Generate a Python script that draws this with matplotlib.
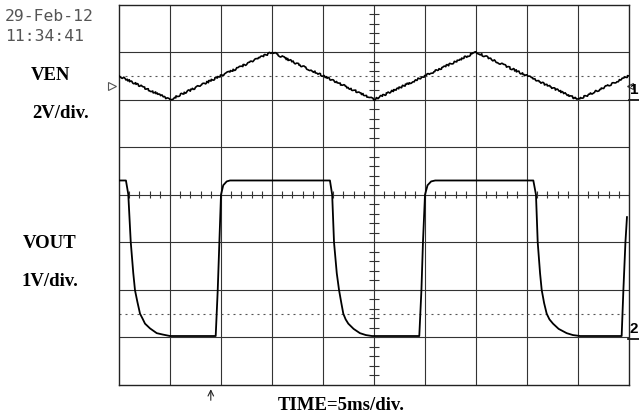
import numpy as np
import matplotlib
matplotlib.use("Agg")
import matplotlib.pyplot as plt

# scope settings
time_per_div = 5.0      # ms/div
ch1_scale = 2.0         # V/div
ch2_scale = 1.0         # V/div
ch1_pos = 2.0           # div, ground position of channel 1
ch2_pos = -3.0          # div, ground position of channel 2
trig_level = 0.56       # V on ch1
trig_time = 9.0         # ms

# VEN trace (ms, V)
ven_t = [0.0, 5.0, 15.0, 25.0, 35.0, 45.0, 50.0]
ven_v = [1.0, 0.0, 2.0, 0.0, 2.0, 0.0, 1.0]

# VOUT trace (ms, V)
vout_t = [0.0, 0.68, 0.91, 1.15, 1.40, 1.57, 1.81, 2.06, 2.30, 2.55, 3.04, 3.7, 4.31, 5.0,
          9.48, 9.68, 9.84, 10.0, 10.22, 10.56, 10.88,
          20.68, 20.9, 21.08, 21.35, 21.57, 21.80, 21.99, 22.22, 22.48, 23.0, 23.62, 24.2, 24.8,
          29.44, 29.65, 29.8, 30.0, 30.25, 30.6, 31.0,
          40.62, 40.88, 41.05, 41.28, 41.44, 41.68, 41.93, 42.2, 42.55, 43.1, 43.89, 44.5, 45.2,
          49.28, 49.45, 49.65, 49.8]
vout_v = [3.3, 3.3, 3.01, 2.01, 1.35, 0.99, 0.74, 0.5, 0.4, 0.29, 0.19, 0.09, 0.06, 0.03,
          0.03, 1.0, 2.0, 3.0, 3.2, 3.28, 3.3,
          3.3, 3.0, 2.0, 1.35, 1.0, 0.72, 0.5, 0.38, 0.29, 0.18, 0.09, 0.05, 0.03,
          0.03, 1.0, 2.0, 3.0, 3.2, 3.28, 3.3,
          3.3, 3.0, 2.0, 1.35, 1.0, 0.72, 0.5, 0.38, 0.29, 0.18, 0.09, 0.05, 0.03,
          0.03, 1.0, 2.0, 2.53]

W, H = 639, 416
fig = plt.figure(figsize=(W / 100, H / 100), dpi=100)
ax = fig.add_axes([119 / W, (H - 385) / H, 510 / W, 380.5 / H])
ax.set_xlim(0, 10)
ax.set_ylim(-4, 4)
ax.set_xticks([])
ax.set_yticks([])
for s in ax.spines.values():
    s.set_color("#222222")
    s.set_linewidth(1.0)

# graticule
gcol = "#333333"
for i in range(1, 10):
    ax.axvline(i, color=gcol, lw=0.8, zorder=1)
for j in range(-3, 4):
    ax.axhline(j, color=gcol, lw=0.8, zorder=1)
minor = np.arange(0, 10.01, 0.2)
ax.vlines(minor, -0.075, 0.075, color=gcol, lw=0.8, zorder=1)
minor_y = np.arange(-4, 4.01, 0.2)
ax.hlines(minor_y, 5 - 0.09, 5 + 0.09, color=gcol, lw=0.8, zorder=1)

# reference dotted lines
for yy in (2.5, -2.5):
    ax.axhline(yy, color="#555555", lw=0.8, ls=(0, (1.8, 3.6)), zorder=1)

# traces
xs1 = np.array(ven_t) / time_per_div
ys1 = ch1_pos + np.array(ven_v) / ch1_scale
l1, = ax.plot(xs1, ys1, color="black", lw=1.2, zorder=3)
l1.set_sketch_params(scale=0.9, length=3, randomness=6)

xs2 = np.array(vout_t) / time_per_div
ys2 = ch2_pos + np.array(vout_v) / ch2_scale
ax.plot(xs2, ys2, color="black", lw=1.3, zorder=3)

# markers
ty = ch1_pos + trig_level / ch1_scale
ax.plot([-0.13], [ty], marker=">", ms=6, mfc="none", mec="#555555", mew=0.8,
        clip_on=False)
ax.plot([10.015], [ty], marker="<", ms=4.5, mfc="none", mec="#333333", mew=0.8,
        clip_on=False)
ax.plot([10, 10.25], [ch1_pos, ch1_pos], color="black", lw=1.2, clip_on=False)
ax.plot([9.98, 10.25], [ch2_pos - 0.04, ch2_pos - 0.04], color="black",
        lw=1.2, clip_on=False)

# channel numbers, right aligned to the figure edge
lab = dict(family="Liberation Sans", fontweight="bold", fontsize=11,
           ha="right", va="bottom")
x_edge = 638.5 / W
y1 = ax.transData.transform((0, ch1_pos + 0.05))[1] / H
y2 = ax.transData.transform((0, ch2_pos + 0.02))[1] / H
fig.text(x_edge, y1, "1", **lab)
fig.text(x_edge, y2, "2", **lab)

# trigger arrow
ax.annotate("", xy=(trig_time / time_per_div, -4.03),
            xytext=(trig_time / time_per_div, -4.38),
            arrowprops=dict(arrowstyle="->", color="#222222", lw=0.8),
            annotation_clip=False)


def fpos(x, y):
    return x / W, 1 - y / H


mono = dict(family="DejaVu Sans Mono", color="#555555", fontsize=11.8)
fig.text(*fpos(5, 16.5), "29-Feb-12", ha="left", va="center", **mono)
fig.text(*fpos(5, 36.5), "11:34:41", ha="left", va="center", **mono)

serif = dict(family="Liberation Serif", fontweight="bold", fontsize=13.5,
             ha="center", va="center")
fig.text(*fpos(51, 76), "VEN", **serif)
fig.text(*fpos(61, 114), "2V/div.", **serif)
fig.text(*fpos(50, 244), "VOUT", **serif)
fig.text(*fpos(50, 281), "1V/div.", **serif)
fig.text(*fpos(341, 406), "TIME=5ms/div.", **serif)

fig.savefig("out.png", dpi=100, facecolor="white")
